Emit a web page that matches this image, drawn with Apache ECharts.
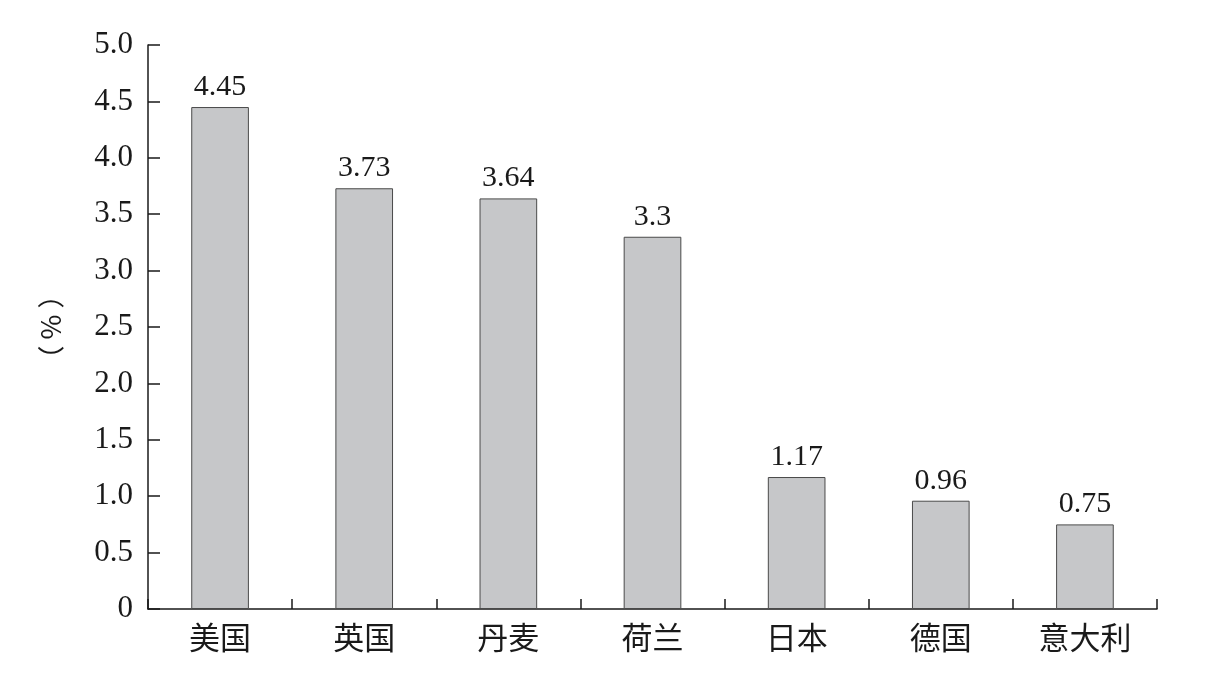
<!DOCTYPE html>
<html>
<head>
<meta charset="utf-8">
<script src="https://cdn.jsdelivr.net/npm/echarts@6/dist/echarts.min.js"></script>
<style>
  html, body { margin: 0; padding: 0; background: #fff; }
  #main { width: 1219px; height: 689px; }
</style>
</head>
<body>
<div id="main"></div>
<script>
const countries = ['美国', '英国', '丹麦', '荷兰', '日本', '德国', '意大利'];
const shares = [4.45, 3.73, 3.64, 3.3, 1.17, 0.96, 0.75];
const yTicks = ['0', '0.5', '1.0', '1.5', '2.0', '2.5', '3.0', '3.5', '4.0', '4.5', '5.0'];

const numFont = '"Liberation Serif", "DejaVu Serif", serif';
const cjkFont = '"Liberation Serif", "Noto Sans CJK SC", serif';

const chart = echarts.init(document.getElementById('main'), null, { renderer: 'canvas' });

chart.setOption({
  backgroundColor: '#ffffff',
  animation: false,
  grid: { left: 148, right: 62, top: 45, bottom: 80, containLabel: false },
  xAxis: {
    type: 'category',
    data: countries,
    axisLine: { show: true, lineStyle: { color: '#1a1a1a', width: 1.5 } },
    axisTick: { show: true, interval: 0, inside: true, length: 10, alignWithLabel: false, lineStyle: { color: '#1a1a1a', width: 1.5 } },
    axisLabel: { color: '#1a1a1a', fontSize: 31, fontFamily: cjkFont, margin: 16, interval: 0 },
  },
  yAxis: {
    type: 'value',
    min: 0,
    max: 5,
    interval: 0.5,
    name: '（ % ）',
    nameLocation: 'middle',
    nameGap: 84,
    nameTextStyle: { color: '#1a1a1a', fontSize: 27, fontFamily: '"Noto Sans CJK SC", "Liberation Serif", serif' },
    axisLine: { show: true, lineStyle: { color: '#1a1a1a', width: 1.5 } },
    axisTick: { show: true, inside: true, length: 12, lineStyle: { color: '#1a1a1a', width: 1.5 } },
    splitLine: { show: false },
    axisLabel: {
      color: '#1a1a1a',
      fontSize: 31,
      fontFamily: numFont,
      margin: 15,
      formatter: (v) => yTicks[Math.round(v * 2)],
    },
  },
  series: [
    {
      type: 'bar',
      data: shares,
      barWidth: '40%',
      itemStyle: { color: '#c6c7c9', borderColor: '#4a4a4a', borderWidth: 1 },
      label: {
        show: true,
        position: 'top',
        distance: 5,
        color: '#1a1a1a',
        fontSize: 30,
        fontFamily: numFont,
      },
    },
  ],
});
</script>
</body>
</html>
